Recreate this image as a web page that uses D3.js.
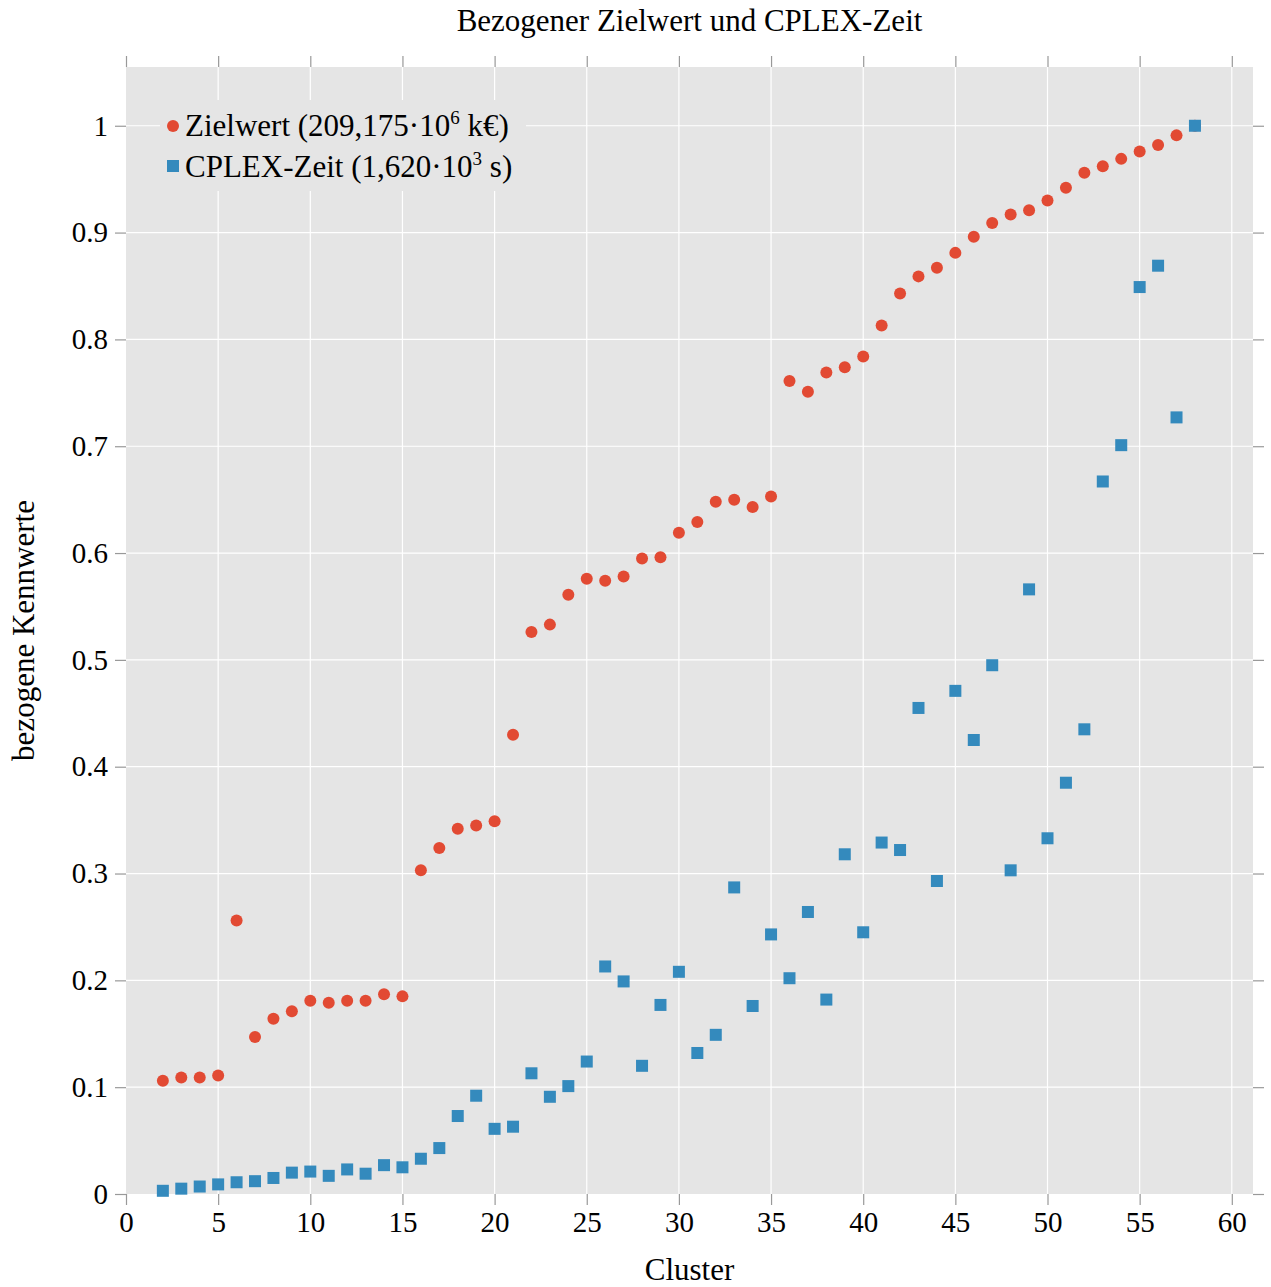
<!DOCTYPE html>
<html>
<head>
<meta charset="utf-8">
<script src="https://cdn.jsdelivr.net/npm/d3@7"></script>
<style>
  body { margin: 0; background: #fff; }
  text { font-family: "Liberation Serif", "DejaVu Serif", serif; fill: #000; }
</style>
</head>
<body>
<div id="chart"></div>
<script>
  // cluster count on x axis
  var clusters = d3.range(2, 59);
  // normalised objective value (red dots)
  var zielwert = [0.106, 0.109, 0.109, 0.111, 0.256, 0.147, 0.164, 0.171, 0.181, 0.179,
    0.181, 0.181, 0.187, 0.185, 0.303, 0.324, 0.342, 0.345, 0.349, 0.430,
    0.526, 0.533, 0.561, 0.576, 0.574, 0.578, 0.595, 0.596, 0.619, 0.629,
    0.648, 0.650, 0.643, 0.653, 0.761, 0.751, 0.769, 0.774, 0.784, 0.813,
    0.843, 0.859, 0.867, 0.881, 0.896, 0.909, 0.917, 0.921, 0.930, 0.942,
    0.956, 0.962, 0.969, 0.976, 0.982, 0.991, 1.000];
  // normalised CPLEX run time (blue squares)
  var cplexZeit = [0.003, 0.005, 0.007, 0.009, 0.011, 0.012, 0.015, 0.020, 0.021, 0.017,
    0.023, 0.019, 0.027, 0.025, 0.033, 0.043, 0.073, 0.092, 0.061, 0.063,
    0.113, 0.091, 0.101, 0.124, 0.213, 0.199, 0.120, 0.177, 0.208, 0.132,
    0.149, 0.287, 0.176, 0.243, 0.202, 0.264, 0.182, 0.318, 0.245, 0.329,
    0.322, 0.455, 0.293, 0.471, 0.425, 0.495, 0.303, 0.566, 0.333, 0.385,
    0.435, 0.667, 0.701, 0.849, 0.869, 0.727, 1.000];
  var xTicks = d3.range(0, 61, 5);
  var yTicks = d3.range(0, 11).map(function(i) { return i / 10; });

  var width = 1271,
    height = 1287,
    margin = {top: 67, right: 18, bottom: 93, left: 126},
    red = '#E24A33',
    blue = '#348ABD',
    serif = '"Liberation Serif", "DejaVu Serif", serif';

  var svg = d3.select('#chart')
    .append('svg')
    .attr('width', width)
    .attr('height', height);

  var x = d3.scaleLinear()
    .domain([0, 61.15])
    .range([margin.left, width - margin.right]);
  var y = d3.scaleLinear()
    .domain([0, 1.055])
    .range([height - margin.bottom, margin.top]);

  // grey panel
  svg.append('rect')
    .attr('x', x(0)).attr('y', y(1.055))
    .attr('width', x(61.15) - x(0))
    .attr('height', y(0) - y(1.055))
    .attr('fill', '#e5e5e5');

  // white grid
  svg.append('g').selectAll('line')
    .data(xTicks.filter(function(d) { return d > 0; }))
    .enter().append('line')
    .attr('x1', x).attr('x2', x)
    .attr('y1', y(0)).attr('y2', y(1.055))
    .attr('stroke', '#fff').attr('stroke-width', 1.2);
  svg.append('g').selectAll('line')
    .data(yTicks.filter(function(d) { return d > 0; }))
    .enter().append('line')
    .attr('y1', y).attr('y2', y)
    .attr('x1', x(0)).attr('x2', x(61.15))
    .attr('stroke', '#fff').attr('stroke-width', 1.2);

  function styleAxis(g) {
    g.attr('font-family', serif).attr('font-size', 29);
    g.select('.domain').remove();
    g.selectAll('.tick line').attr('stroke', '#999').attr('stroke-width', 1.2);
    g.selectAll('.tick text')
      .style('font-family', serif)
      .style('font-size', '29px')
      .attr('fill', '#000');
  }

  svg.append('g')
    .attr('transform', 'translate(0,' + y(0) + ')')
    .call(d3.axisBottom(x).tickValues(xTicks).tickSize(11).tickPadding(6))
    .call(styleAxis);
  svg.append('g')
    .attr('transform', 'translate(0,' + y(1.055) + ')')
    .call(d3.axisTop(x).tickValues(xTicks).tickSize(11).tickFormat(''))
    .call(styleAxis);
  svg.append('g')
    .attr('transform', 'translate(' + x(0) + ',0)')
    .call(d3.axisLeft(y).tickValues(yTicks).tickSize(11).tickPadding(7)
      .tickFormat(function(d) { return d === 0 || d === 1 ? d3.format('d')(d) : d3.format('.1f')(d); }))
    .call(styleAxis);
  svg.append('g')
    .attr('transform', 'translate(' + x(61.15) + ',0)')
    .call(d3.axisRight(y).tickValues(yTicks).tickSize(11).tickFormat(''))
    .call(styleAxis);

  // legend box (hides grid)
  var legend = svg.append('g');
  legend.append('rect')
    .attr('x', 160).attr('y', 100)
    .attr('width', 366).attr('height', 91)
    .attr('fill', '#e5e5e5');

  // points
  svg.append('g').selectAll('circle')
    .data(clusters.map(function(c, i) { return [c, zielwert[i]]; }))
    .enter().append('circle')
    .attr('cx', function(d) { return x(d[0]); })
    .attr('cy', function(d) { return y(d[1]); })
    .attr('r', 6)
    .attr('fill', red);

  var sq = 12;
  svg.append('g').selectAll('rect')
    .data(clusters.map(function(c, i) { return [c, cplexZeit[i]]; }))
    .enter().append('rect')
    .attr('x', function(d) { return x(d[0]) - sq / 2; })
    .attr('y', function(d) { return y(d[1]) - sq / 2; })
    .attr('width', sq).attr('height', sq)
    .attr('fill', blue);

  // legend entries
  legend.append('circle').attr('cx', 173).attr('cy', 126).attr('r', 6).attr('fill', red);
  legend.append('rect').attr('x', 167).attr('y', 160).attr('width', 12).attr('height', 12).attr('fill', blue);

  var t1 = legend.append('text').attr('x', 185).attr('y', 136).style('font-size', '31px');
  t1.append('tspan').text('Zielwert (209,175·10');
  t1.append('tspan').attr('dy', -12).style('font-size', '19px').text('6');
  t1.append('tspan').attr('dy', 12).text(' k€)');

  var t2 = legend.append('text').attr('x', 185).attr('y', 177).style('font-size', '31px');
  t2.append('tspan').text('CPLEX-Zeit (1,620·10');
  t2.append('tspan').attr('dy', -12).style('font-size', '19px').text('3');
  t2.append('tspan').attr('dy', 12).text(' s)');

  // titles
  svg.append('text')
    .attr('x', (x(0) + x(61.15)) / 2).attr('y', 31)
    .attr('text-anchor', 'middle')
    .style('font-size', '31px')
    .text('Bezogener Zielwert und CPLEX-Zeit');

  svg.append('text')
    .attr('x', (x(0) + x(61.15)) / 2).attr('y', 1280)
    .attr('text-anchor', 'middle')
    .style('font-size', '31px')
    .text('Cluster');

  svg.append('text')
    .attr('transform', 'translate(34,' + (y(0) + y(1.055)) / 2 + ') rotate(-90)')
    .attr('text-anchor', 'middle')
    .style('font-size', '31px')
    .text('bezogene Kennwerte');
</script>
</body>
</html>
